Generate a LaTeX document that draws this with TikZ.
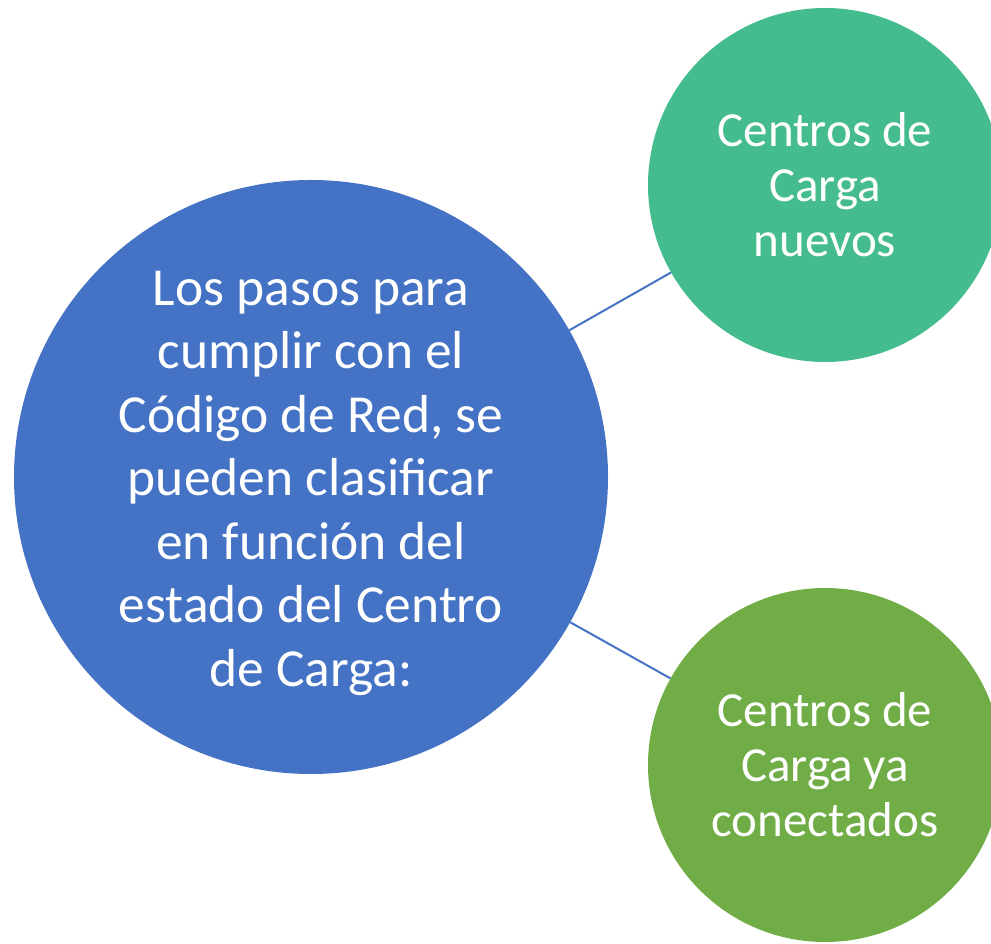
\documentclass[tikz,border=0pt]{standalone}
\usepackage{fontspec}
\setmainfont{Carlito}
\definecolor{mainblue}{HTML}{4472C4}
\definecolor{tealgreen}{HTML}{45BC8D}
\definecolor{leafgreen}{HTML}{70AD47}
\begin{document}
\begin{tikzpicture}[x=1pt,y=1pt,
  bubble/.style={circle, inner sep=0pt, text=white, align=center},
  bigtext/.style={font=\fontsize{53.5}{63.5}\selectfont, text=white, align=center},
  smalltext/.style={font=\fontsize{49}{55}\selectfont},
  link/.style={draw=mainblue, line width=2pt}]
\useasboundingbox (0,0) rectangle (991,943);
\clip (0,0) rectangle (991,943);
\node[bubble, fill=mainblue, minimum size=594pt] (main) at (311,466) {};
\node[bigtext] (maintext) at ([yshift=-6pt]main.center)
  {Los pasos para\\cumplir con el\\Código de Red, se\\pueden clasificar\\en función del\\estado del Centro\\de Carga:};
\node[bubble, smalltext, fill=tealgreen, minimum size=354pt] (new) at (825,758)
  {Centros de\\Carga\\nuevos};
\node[bubble, smalltext, fill=leafgreen, minimum size=354pt] (old) at (825,178)
  {Centros de\\Carga ya\\conectados};
\draw[link] (main) -- (new);
\draw[link] (main) -- (old);
\end{tikzpicture}
\end{document}
